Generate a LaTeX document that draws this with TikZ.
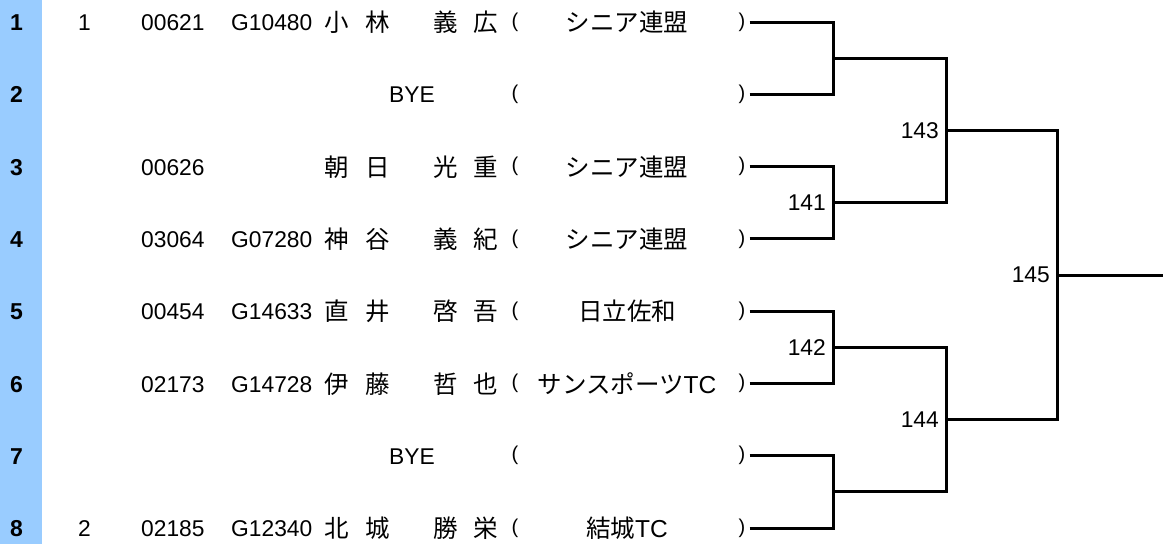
\documentclass[tikz,border=0pt]{standalone}
\usepackage{fontspec}
\setmainfont{Liberation Sans}
\newfontfamily\jp{Noto Sans CJK JP}
\definecolor{seedblue}{RGB}{153,204,255}
\begin{document}
\begin{tikzpicture}[x=1pt,y=-1pt,
  txt/.style={font=\fontsize{22.8}{27}\selectfont, inner sep=0pt, anchor=base, yshift=-8.5pt},
  jtxt/.style={font=\jp\fontsize{24.5}{29}\selectfont, inner sep=0pt, anchor=base, yshift=-9.5pt},
  lbl/.style={font=\fontsize{23}{27}\selectfont\bfseries, inner sep=0pt, anchor=base, yshift=-8.5pt},
  paren/.style={font=\fontsize{20}{24}\selectfont, inner sep=0pt},
  mno/.style={font=\fontsize{22.8}{27}\selectfont, inner sep=0pt, anchor=east},
  br/.style={line width=3pt}]
\useasboundingbox (0,0) rectangle (1163,544);
\fill[seedblue] (0,0) rectangle (42,544);
% row labels
\node[lbl] (l1) at (16.5,22) {1};
\node[lbl] (l2) at (16.5,94.3) {2};
\node[lbl] (l3) at (16.5,166.6) {3};
\node[lbl] (l4) at (16.5,238.9) {4};
\node[lbl] (l5) at (16.5,311.2) {5};
\node[lbl] (l6) at (16.5,383.5) {6};
\node[lbl] (l7) at (16.5,455.8) {7};
\node[lbl] (l8) at (16.5,528.1) {8};
% row 1
\node[txt] (s1) at (84.5,22) {1};
\node[txt,anchor=base west] (id1) at (141,22) {00621};
\node[txt,anchor=base west] (g1) at (231,22) {G10480};
\node[jtxt] (n1a) at (337,22) {小};
\node[jtxt] (n1b) at (378,22) {林};
\node[jtxt] (n1c) at (446,22) {義};
\node[jtxt] (n1d) at (486,22) {広};
\node[paren] (o1) at (515,22) {(};
\node[jtxt] (c1) at (627,22) {シニア連盟};
\node[paren] (r1) at (742,22) {)};
% row 2
\node[txt] (b2) at (412,94.3) {BYE};
\node[paren] (o2) at (515,94.3) {(};
\node[paren] (r2) at (742,94.3) {)};
% row 3
\node[txt,anchor=base west] (id3) at (141,166.6) {00626};
\node[jtxt] (n3a) at (337,166.6) {朝};
\node[jtxt] (n3b) at (378,166.6) {日};
\node[jtxt] (n3c) at (446,166.6) {光};
\node[jtxt] (n3d) at (486,166.6) {重};
\node[paren] (o3) at (515,166.6) {(};
\node[jtxt] (c3) at (627,166.6) {シニア連盟};
\node[paren] (r3) at (742,166.6) {)};
% row 4
\node[txt,anchor=base west] (id4) at (141,238.9) {03064};
\node[txt,anchor=base west] (g4) at (231,238.9) {G07280};
\node[jtxt] (n4a) at (337,238.9) {神};
\node[jtxt] (n4b) at (378,238.9) {谷};
\node[jtxt] (n4c) at (446,238.9) {義};
\node[jtxt] (n4d) at (486,238.9) {紀};
\node[paren] (o4) at (515,238.9) {(};
\node[jtxt] (c4) at (627,238.9) {シニア連盟};
\node[paren] (r4) at (742,238.9) {)};
% row 5
\node[txt,anchor=base west] (id5) at (141,311.2) {00454};
\node[txt,anchor=base west] (g5) at (231,311.2) {G14633};
\node[jtxt] (n5a) at (337,311.2) {直};
\node[jtxt] (n5b) at (378,311.2) {井};
\node[jtxt] (n5c) at (446,311.2) {啓};
\node[jtxt] (n5d) at (486,311.2) {吾};
\node[paren] (o5) at (515,311.2) {(};
\node[jtxt] (c5) at (627,311.2) {日立佐和};
\node[paren] (r5) at (742,311.2) {)};
% row 6
\node[txt,anchor=base west] (id6) at (141,383.5) {02173};
\node[txt,anchor=base west] (g6) at (231,383.5) {G14728};
\node[jtxt] (n6a) at (337,383.5) {伊};
\node[jtxt] (n6b) at (378,383.5) {藤};
\node[jtxt] (n6c) at (446,383.5) {哲};
\node[jtxt] (n6d) at (486,383.5) {也};
\node[paren] (o6) at (515,383.5) {(};
\node[jtxt] (c6) at (627,383.5) {サンスポーツ\fontspec{Liberation Sans}TC};
\node[paren] (r6) at (742,383.5) {)};
% row 7
\node[txt] (b7) at (412,455.8) {BYE};
\node[paren] (o7) at (515,455.8) {(};
\node[paren] (r7) at (742,455.8) {)};
% row 8
\node[txt] (s8) at (84.5,528.1) {2};
\node[txt,anchor=base west] (id8) at (141,528.1) {02185};
\node[txt,anchor=base west] (g8) at (231,528.1) {G12340};
\node[jtxt] (n8a) at (337,528.1) {北};
\node[jtxt] (n8b) at (378,528.1) {城};
\node[jtxt] (n8c) at (446,528.1) {勝};
\node[jtxt] (n8d) at (486,528.1) {栄};
\node[paren] (o8) at (515,528.1) {(};
\node[jtxt] (c8) at (627,528.1) {結城\fontspec{Liberation Sans}TC};
\node[paren] (r8) at (742,528.1) {)};
% junctions
\coordinate (j1) at (833,58.15);
\coordinate (j141) at (833,202.75);
\coordinate (j142) at (833,347.35);
\coordinate (j4) at (833,491.95);
\coordinate (j143) at (946,130.45);
\coordinate (j144) at (946,419.65);
\coordinate (j145) at (1057,275.05);
\coordinate (fin) at (1163,275.05);
% bracket
\draw[br] ([xshift=4pt]r1.east) -| (j1);
\draw[br] ([xshift=4pt]r2.east) -| (j1);
\draw[br] ([xshift=4pt]r3.east) -| (j141);
\draw[br] ([xshift=4pt]r4.east) -| (j141);
\draw[br] ([xshift=4pt]r5.east) -| (j142);
\draw[br] ([xshift=4pt]r6.east) -| (j142);
\draw[br] ([xshift=4pt]r7.east) -| (j4);
\draw[br] ([xshift=4pt]r8.east) -| (j4);
\draw[br] (j1) -| (j143);
\draw[br] (j141) -| (j143);
\draw[br] (j142) -| (j144);
\draw[br] (j4) -| (j144);
\draw[br] (j143) -| (j145);
\draw[br] (j144) -| (j145);
\draw[br] (j145) -- (fin);
% match numbers
\node[mno] (t141) at ([xshift=-7pt]j141) {141};
\node[mno] (t142) at ([xshift=-7pt]j142) {142};
\node[mno] (t143) at ([xshift=-7pt]j143) {143};
\node[mno] (t144) at ([xshift=-7pt]j144) {144};
\node[mno] (t145) at ([xshift=-7pt]j145) {145};
\end{tikzpicture}
\end{document}
